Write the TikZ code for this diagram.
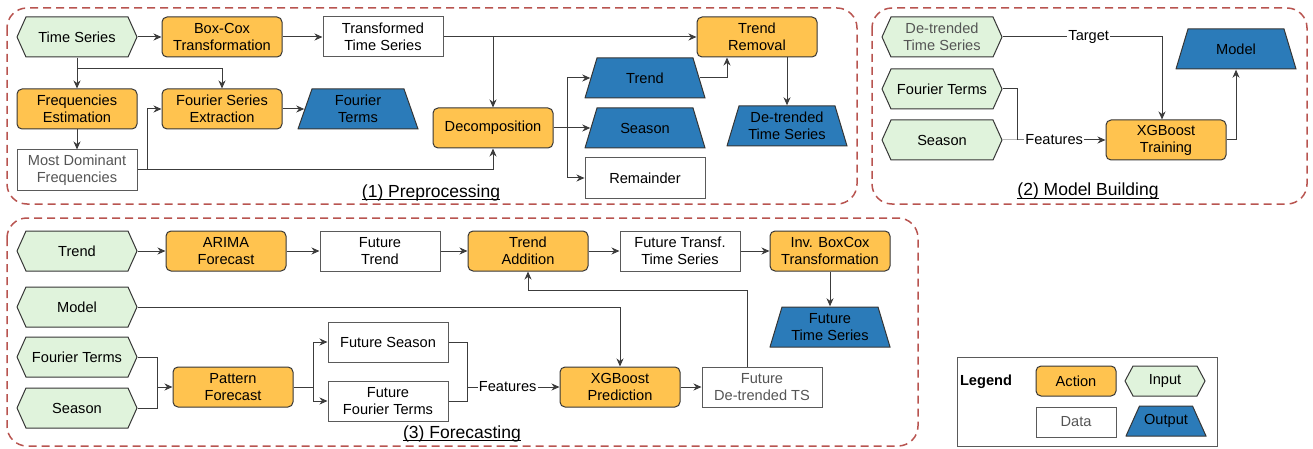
\documentclass[tikz,border=0pt]{standalone}
\usepackage{fontspec}
\setmainfont{Liberation Sans}
\usetikzlibrary{arrows.meta}
\definecolor{orF}{HTML}{FFC34F}
\definecolor{grF}{HTML}{E0F3DC}
\definecolor{blF}{HTML}{2B7BB9}
\definecolor{stC}{HTML}{363636}
\definecolor{daC}{HTML}{5A5A5A}
\definecolor{lnC}{HTML}{3C3C3C}
\definecolor{rdC}{HTML}{B85450}
\definecolor{txG}{HTML}{555555}
\tikzset{
  act/.style={rectangle, rounded corners=5pt, fill=orF, draw=stC, line width=1pt,
    minimum width=120pt, minimum height=40pt, inner sep=0pt, align=center},
  dat/.style={rectangle, fill=white, draw=daC, line width=1pt,
    minimum width=120pt, minimum height=40pt, inner sep=0pt, align=center},
  inp/.style={minimum width=121pt, minimum height=41pt, inner sep=0pt, align=center,
    path picture={\draw[fill=grF, draw=stC, line width=1pt]
      ([xshift=.5pt]path picture bounding box.west)
      -- ([xshift=#1,yshift=-.5pt]path picture bounding box.north west)
      -- ([xshift=-#1,yshift=-.5pt]path picture bounding box.north east)
      -- ([xshift=-.5pt]path picture bounding box.east)
      -- ([xshift=-#1,yshift=.5pt]path picture bounding box.south east)
      -- ([xshift=#1,yshift=.5pt]path picture bounding box.south west) -- cycle;}},
  inp/.default=9.5pt,
  outp/.style={minimum width=121pt, minimum height=41pt, inner sep=0pt, align=center,
    path picture={\draw[fill=blF, draw=stC, line width=1pt]
      ([xshift=.5pt,yshift=.5pt]path picture bounding box.south west)
      -- ([xshift=#1,yshift=-.5pt]path picture bounding box.north west)
      -- ([xshift=-#1,yshift=-.5pt]path picture bounding box.north east)
      -- ([xshift=-.5pt,yshift=.5pt]path picture bounding box.south east) -- cycle;}},
  outp/.default=12.5pt,
  ln/.style={draw=lnC, line width=1pt},
  arr/.style={draw=lnC, line width=1pt, -{Stealth[length=8pt,width=7pt,inset=2.5pt]}},
  lbl/.style={fill=white, inner sep=1pt, text=black},
  region/.style={draw=rdC, line width=1.5pt, rounded corners=20pt, dash pattern=on 8pt off 5pt},
  ttl/.style={font=\fontsize{17.5}{20}\selectfont, inner sep=0pt, anchor=base},
  ul/.style={draw=black, line width=0.8pt},
  gtxt/.style={text=txG}
}
\begin{document}
\begin{tikzpicture}[x=1pt,y=-1pt, font=\fontsize{14.6}{17}\selectfont]
\useasboundingbox (0,0) rectangle (1313,449);

% regions
\draw[region] (7,8) rectangle (857,204);
\draw[region] (872,8) rectangle (1307,204);
\draw[region] (7,218) rectangle (918,446);

% ---------- (1) Preprocessing ----------
\node[inp] (ts1) at (77,37) {Time Series};
\node[act] (boxcox) at (222,37) {Box-Cox\\Transformation};
\node[dat] (tts) at (383,37) {Transformed\\Time Series};
\node[act] (trendrem) at (757,37) {Trend\\Removal};
\node[act] (freq) at (77,109) {Frequencies\\Estimation};
\node[act] (fse) at (222,109) {Fourier Series\\Extraction};
\node[outp=14.5pt] (fterms1) at (358,109) {Fourier\\Terms};
\node[dat, gtxt] (mdf) at (77,170) {Most Dominant\\Frequencies};
\node[act] (decomp) at (493,128) {Decomposition};
\node[outp] (trend1) at (645,78) {Trend};
\node[outp] (season1) at (645,128) {Season};
\node[dat] (remainder) at (645,178) {Remainder};
\node[outp] (dtts1) at (787,126) {De-trended\\Time Series};

\coordinate (j7) at (77,69);
\coordinate (j8) at (147,170);
\coordinate (j9) at (567,128);
\draw[arr] (ts1.east) -- (boxcox.west);
\draw[arr] (boxcox.east) -- (tts.west);
\draw[arr] (tts.east) -- (trendrem.west);
\draw[arr] (tts.east -| decomp.north) -- (decomp.north);
\draw[arr] (ts1.south) -- (freq.north);
\draw[arr] (j7) -| (fse.north);
\draw[arr] (freq.south) -- (mdf.north);
\draw[arr] (mdf.east) -- (j8) |- (fse.west);
\draw[arr] (mdf.east) -| (decomp.south);
\draw[arr] (fse.east) -- ([xshift=7pt]fterms1.west);
\draw[arr] (decomp.east) -- ([xshift=6pt]season1.west);
\draw[arr] (j9) |- ([xshift=6pt]trend1.west);
\draw[arr] (j9) |- (remainder.west);
\draw[arr] ([xshift=-6pt]trend1.east) -| ([xshift=-30pt]trendrem.south);
\draw[arr] (trendrem.south -| dtts1.north) -- (dtts1.north);

\node[ttl] (lab1) at (431,197) {(1) Preprocessing};
\draw[ul] ([yshift=-2.5pt]lab1.base west) -- ([yshift=-2.5pt]lab1.base east);

% ---------- (2) Model Building ----------
\node[inp, gtxt] (dt2) at (942,37) {De-trended\\Time Series};
\node[inp] (ft2) at (942,89) {Fourier Terms};
\node[inp] (s2) at (942,140) {Season};
\node[act] (xgbt) at (1166,140) {XGBoost\\Training};
\node[outp] (model2) at (1236,49) {Model};

\coordinate (j2) at (1017,140);
\draw[arr] (dt2.east) -| node[lbl, pos=0.27] {Target} ([xshift=-4pt]xgbt.north);
\draw[ln] (ft2.east) -| (j2);
\draw[arr] (s2.east) -- (j2) -- node[lbl, pos=0.42] {Features} (xgbt.west);
\draw[arr] (xgbt.east) -| (model2.south);

\node[ttl] (lab2) at (1088,196) {(2) Model Building};
\draw[ul] ([yshift=-2.5pt]lab2.base west) -- ([yshift=-2.5pt]lab2.base east);

% ---------- (3) Forecasting ----------
\node[inp] (trend3) at (77,251) {Trend};
\node[act] (arima) at (226,251) {ARIMA\\Forecast};
\node[dat] (futtrend) at (380,251) {Future\\Trend};
\node[act] (trendadd) at (528,251) {Trend\\Addition};
\node[dat] (ftts) at (680,251) {Future Transf.\\Time Series};
\node[act] (invbc) at (830,251) {Inv. BoxCox\\Transformation};
\node[outp] (fts) at (830,327) {Future\\Time Series};
\node[inp] (model3) at (77,307) {Model};
\node[inp] (ft3) at (77,357) {Fourier Terms};
\node[inp] (s3) at (77,408) {Season};
\node[act] (pattern) at (233,387) {Pattern\\Forecast};
\node[dat] (fseason) at (388,342) {Future Season};
\node[dat] (ffterms) at (388,401) {Future\\Fourier Terms};
\node[act] (xgbp) at (620,387) {XGBoost\\Prediction};
\node[dat, gtxt] (fdts) at (762,387) {Future\\De-trended TS};

\coordinate (j3) at (157,387);
\coordinate (j4) at (313,387);
\coordinate (j5) at (467,387);
\coordinate (j6) at (747,290);
\draw[arr] (trend3.east) -- (arima.west);
\draw[arr] (arima.east) -- (futtrend.west);
\draw[arr] (futtrend.east) -- (trendadd.west);
\draw[arr] (trendadd.east) -- (ftts.west);
\draw[arr] (ftts.east) -- (invbc.west);
\draw[arr] (invbc.south) -- (fts.north);
\draw[arr] (model3.east) -| (xgbp.north);
\draw[ln] (ft3.east) -| (j3);
\draw[ln] (s3.east) -| (j3);
\draw[arr] (j3) -- (pattern.west);
\draw[arr] (pattern.east) -- (j4) |- (fseason.west);
\draw[arr] (j4) |- (ffterms.west);
\draw[ln] (fseason.east) -| (j5);
\draw[ln] (ffterms.east) -| (j5);
\draw[arr] (j5) -- node[lbl, pos=0.44] {Features} (xgbp.west);
\draw[arr] (xgbp.east) -- (fdts.west);
\draw[arr] ([xshift=-15pt]fdts.north) -- (j6) -| (trendadd.south);

\node[ttl] (lab3) at (462,438) {(3) Forecasting};
\draw[ul] ([yshift=-2.5pt]lab3.base west) -- ([yshift=-2.5pt]lab3.base east);

% ---------- Legend ----------
\draw[draw=daC, line width=1pt] (957,357) rectangle (1217,446);
\node[font=\fontsize{14.6}{17}\selectfont\bfseries] (leg) at (986,382) {Legend};
\node[act, minimum width=80pt, minimum height=30pt] (lact) at (1076,381) {Action};
\node[inp=8.5pt, minimum width=81pt, minimum height=31pt] (linp) at (1165,381) {Input};
\node[dat, gtxt, minimum width=80pt, minimum height=30pt] (ldat) at (1076,422) {Data};
\node[outp=14pt, minimum width=81pt, minimum height=31pt] (lout) at (1166,421) {Output};
\end{tikzpicture}
\end{document}
